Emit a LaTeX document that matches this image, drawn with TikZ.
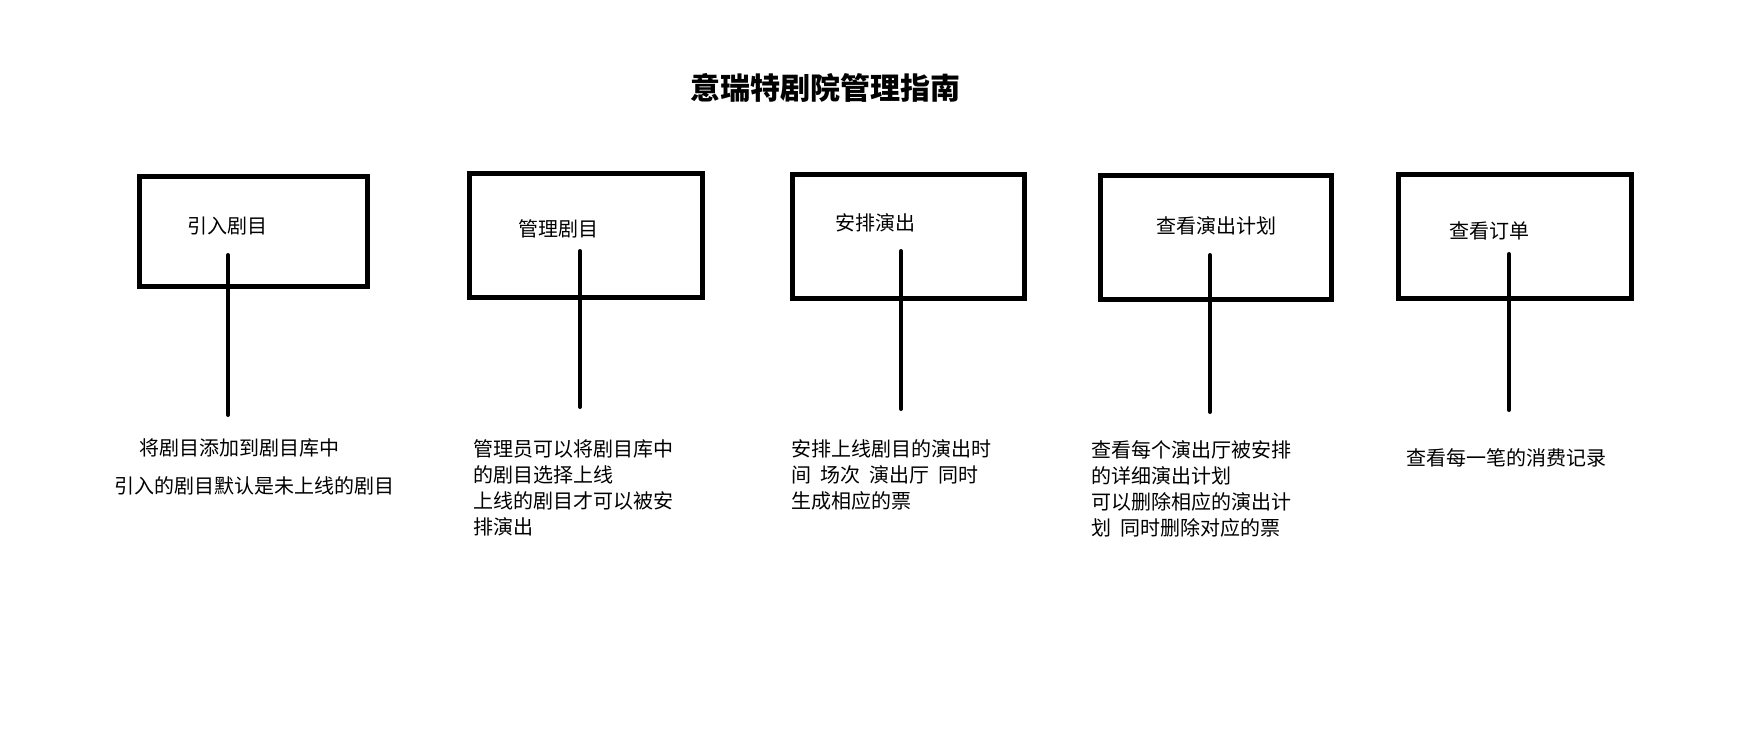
\documentclass[tikz,border=0pt]{standalone}
\usepackage{fontspec}
\setmainfont{Noto Sans CJK SC}
\usepackage{tikz}
\usetikzlibrary{positioning}

\begin{document}
\begin{tikzpicture}[x=0.5pt, y=-0.5pt, menubox/.style={draw, line width=2.5pt,
      inner sep=0pt}, stem/.style={line width=2pt, line cap=round},
      boxtitle/.style={font=\fontsize{10pt}{13pt}\selectfont, inner sep=0pt},
      note/.style={font=\fontsize{10pt}{13pt}\selectfont, align=left,
      inner sep=0pt, anchor=base west} ]
    \useasboundingbox (0,0) rectangle (1760,736);

    % Title
    \node[font=\fontsize{15pt}{18pt}\selectfont\bfseries] (title) at (825,88)
    {意瑞特剧院管理指南};

    % Boxes
    \node[menubox, minimum width=114pt, minimum height=55pt] (import) at
    (253,231) {}; \node[menubox, minimum width=116.5pt, minimum height=62pt]
    (manage) at (585.5,235) {}; \node[menubox, minimum width=116pt, minimum
    height=62pt] (arrange) at (908,236) {}; \node[menubox, minimum
    width=115.5pt, minimum height=62pt] (plan) at (1215.5,237) {};
    \node[menubox, minimum width=116.5pt, minimum height=62pt] (orders) at
    (1514.5,236) {};

    % Labels inside boxes
    \node[boxtitle] (importtxt) at (227,226) {引入剧目}; \node[boxtitle]
    (managetxt) at (558,229) {管理剧目}; \node[boxtitle] (arrangetxt) at
    (875,223) {安排演出}; \node[boxtitle] (plantxt) at (1216,226)
    {查看演出计划}; \node[boxtitle] (orderstxt) at (1489,231) {查看订单};

    % Stems
    \coordinate (s1) at (228,255); \coordinate (e1) at (228,415);
    \coordinate (s2) at (580,251); \coordinate (e2) at (580,407);
    \coordinate (s3) at (901,251); \coordinate (e3) at (901,409);
    \coordinate (s4) at (1210,255); \coordinate (e4) at (1210,412);
    \coordinate (s5) at (1509,254); \coordinate (e5) at (1509,410);
    \foreach \i in {1,...,5} {\draw[stem] (s\i) -- (e\i);}

    % Descriptions (base = last line)
    \node[note] (importnote) at (139,455) {将剧目添加到剧目库中};
    \node[note] (importnoteb) at (114,493) {引入的剧目默认是未上线的剧目};
    \node[note] (managenote) at (473,534) {管理员可以将剧目库中\\的剧目选择上线\\
    上线的剧目才可以被安\\排演出}; \node[note] (arrangenote) at (791,508)
    {安排上线剧目的演出时\\间\ \ 场次\ \ 演出厅\ \ 同时\\生成相应的票};
    \node[note] (plannote) at (1091,535) {查看每个演出厅被安排\\的详细演出计划\\
    可以删除相应的演出计\\划\ \ 同时删除对应的票}; \node[note] (ordersnote) at
    (1406,465) {查看每一笔的消费记录};

    \end{tikzpicture}
\end{document}
